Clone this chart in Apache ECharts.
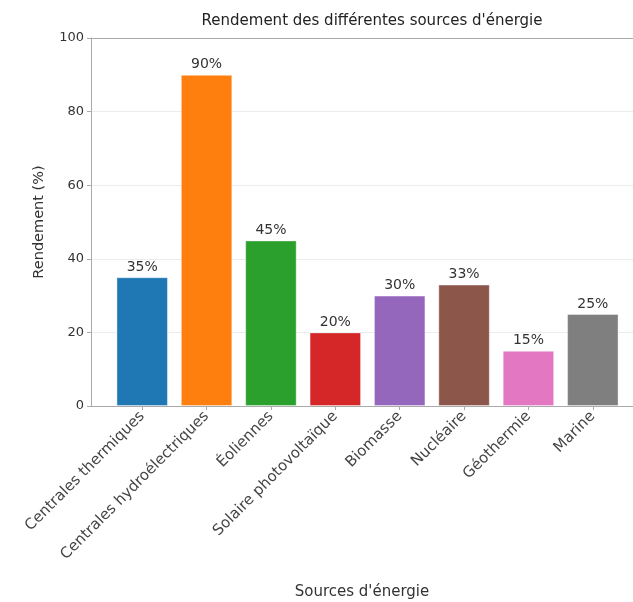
<!DOCTYPE html>
<html>
<head>
<meta charset="utf-8">
<script src="https://cdn.jsdelivr.net/npm/echarts@6/dist/echarts.min.js"></script>
<style>
  html, body { margin: 0; padding: 0; background: #fff; }
  #chart { width: 633px; height: 602px; }
</style>
</head>
<body>
<div id="chart"></div>
<script>
const categories = ['Centrales thermiques', 'Centrales hydroélectriques', 'Éoliennes', 'Solaire photovoltaïque', 'Biomasse', 'Nucléaire', 'Géothermie', 'Marine'];
const rendement = [35, 90, 45, 20, 30, 33, 15, 25];
const colors = ['#1f77b4', '#ff7f0e', '#2ca02c', '#d62728', '#9467bd', '#8c564b', '#e377c2', '#7f7f7f'];

const fontFamily = 'DejaVu Sans';
const chart = echarts.init(document.getElementById('chart'));

chart.setOption({
  animation: false,
  textStyle: { fontFamily: fontFamily },
  title: {
    text: 'Rendement des différentes sources d\'énergie',
    left: 367,
    textAlign: 'center',
    top: 9,
    textStyle: { fontSize: 15, fontWeight: 'normal', color: '#222', fontFamily: fontFamily }
  },
  grid: [
    // frame + y axis (matplotlib margins, right side cut off)
    { left: 91, right: 0, top: 38, bottom: 196, outerBoundsMode: 'none', containLabel: false },
    // bars
    { left: 110, right: 8, top: 38, bottom: 196, outerBoundsMode: 'none', containLabel: false }
  ],
  xAxis: [
    {
      gridIndex: 0, type: 'value', min: 0, max: 1,
      axisLine: { show: true, lineStyle: { color: '#aaa' } },
      axisTick: { show: false }, axisLabel: { show: false }, splitLine: { show: false },
      name: 'Sources d\'énergie', nameLocation: 'middle', nameGap: 179,
      nameTextStyle: { fontSize: 15, color: '#333', fontFamily: fontFamily }
    },
    {
      // top spine
      gridIndex: 0, type: 'value', min: 0, max: 1, position: 'top',
      axisLine: { show: true, lineStyle: { color: '#aaa' } },
      axisTick: { show: false }, axisLabel: { show: false }, splitLine: { show: false }
    },
    {
      gridIndex: 1, type: 'category', data: categories,
      axisLine: { show: false },
      axisTick: { show: true, alignWithLabel: true, length: 4, lineStyle: { color: '#aaa' } },
      axisLabel: { rotate: 45, interval: 0, fontSize: 15, color: '#444', margin: 8, fontFamily: fontFamily }
    }
  ],
  yAxis: [
    {
      gridIndex: 0, type: 'value', min: 0, max: 100, interval: 20,
      axisLine: { show: true, lineStyle: { color: '#aaa' } },
      axisTick: { show: true, length: 4, lineStyle: { color: '#aaa' } },
      axisLabel: { fontSize: 13, color: '#333', margin: 7, fontFamily: fontFamily },
      splitLine: { show: true, lineStyle: { color: '#ececec' } },
      name: 'Rendement (%)', nameLocation: 'middle', nameGap: 44,
      nameTextStyle: { fontSize: 14.5, color: '#333', fontFamily: fontFamily }
    },
    {
      gridIndex: 1, type: 'value', min: 0, max: 100, show: false
    }
  ],
  series: [
    {
      type: 'bar',
      xAxisIndex: 2,
      yAxisIndex: 1,
      barWidth: '80%',
      data: rendement.map((v, i) => ({
        value: v,
        itemStyle: { color: colors[i], borderColor: 'rgba(255,255,255,0.4)', borderWidth: 1 }
      })),
      label: {
        show: true,
        position: 'top',
        distance: 3,
        formatter: '{c}%',
        fontSize: 14,
        color: '#333',
        fontFamily: fontFamily
      }
    }
  ]
});
</script>
</body>
</html>
